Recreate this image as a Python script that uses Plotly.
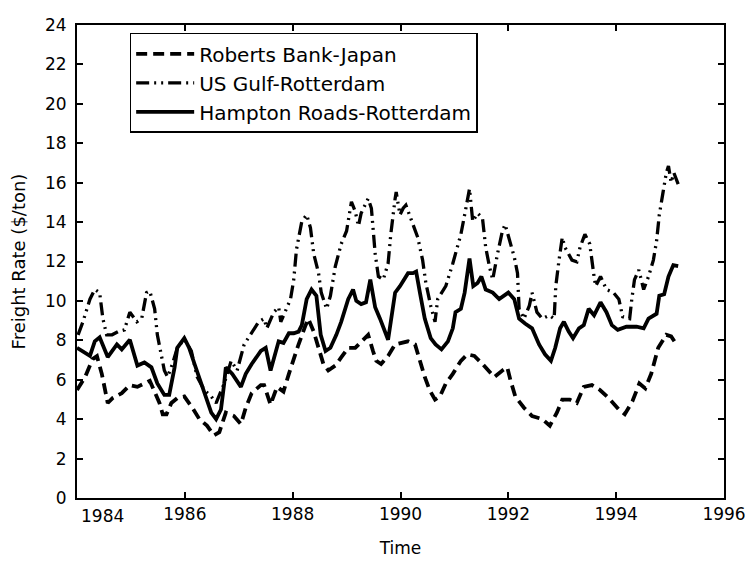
import plotly.graph_objects as go

# ---------------- data ----------------
hr_time = [1984.00, 1984.09, 1984.24, 1984.33, 1984.42, 1984.57, 1984.74, 1984.83, 1984.98, 1985.12,
           1985.25, 1985.38, 1985.49, 1985.62, 1985.71, 1985.81, 1985.86, 1985.99, 1986.08, 1986.18,
           1986.30, 1986.40, 1986.49, 1986.58, 1986.67, 1986.73, 1986.76, 1986.88, 1987.04, 1987.13,
           1987.24, 1987.41, 1987.50, 1987.59, 1987.65, 1987.74, 1987.83, 1987.93, 1988.02, 1988.11,
           1988.17, 1988.26, 1988.35, 1988.44, 1988.52, 1988.61, 1988.70, 1988.81, 1988.90, 1989.03,
           1989.12, 1989.18, 1989.27, 1989.36, 1989.44, 1989.53, 1989.62, 1989.71, 1989.77, 1989.82,
           1989.90, 1989.99, 1990.05, 1990.14, 1990.23, 1990.29, 1990.36, 1990.45, 1990.56, 1990.65,
           1990.76, 1990.88, 1990.97, 1991.02, 1991.12, 1991.19, 1991.28, 1991.35, 1991.43, 1991.50,
           1991.58, 1991.71, 1991.83, 1991.93, 1992.00, 1992.11, 1992.20, 1992.31, 1992.44, 1992.57,
           1992.68, 1992.79, 1992.87, 1992.96, 1993.03, 1993.12, 1993.20, 1993.31, 1993.40, 1993.49,
           1993.59, 1993.71, 1993.82, 1993.92, 1994.03, 1994.19, 1994.38, 1994.51, 1994.60, 1994.75,
           1994.80, 1994.89, 1994.97, 1995.06, 1995.15]
hr_rate = [7.62, 7.46, 7.21, 7.95, 8.15, 7.15, 7.79, 7.54, 8.03, 6.72,
           6.88, 6.63, 5.81, 5.23, 5.23, 6.63, 7.62, 8.11, 7.62, 6.80,
           5.81, 4.99, 4.33, 4.00, 4.49, 5.81, 6.63, 6.30, 5.64, 6.30,
           6.80, 7.46, 7.62, 6.47, 7.13, 7.95, 7.87, 8.36, 8.36, 8.44,
           8.77, 10.09, 10.58, 10.26, 8.28, 7.46, 7.62, 8.28, 8.94, 10.09,
           10.58, 10.00, 9.84, 9.93, 11.08, 9.68, 9.10, 8.44, 8.03, 8.94,
           10.42, 10.75, 11.00, 11.41, 11.41, 11.49, 10.42, 9.10, 8.11, 7.79,
           7.54, 7.95, 8.61, 9.43, 9.60, 10.42, 12.15, 10.75, 10.91, 11.24,
           10.58, 10.42, 10.09, 10.26, 10.42, 10.09, 9.10, 8.85, 8.61, 7.79,
           7.29, 6.96, 7.62, 8.61, 8.94, 8.44, 8.11, 8.61, 8.77, 9.60,
           9.27, 9.93, 9.43, 8.77, 8.53, 8.69, 8.69, 8.61, 9.10, 9.35,
           10.26, 10.34, 11.24, 11.82, 11.77]

rb_time = [1984.00, 1984.15, 1984.29, 1984.37, 1984.46, 1984.57, 1984.66, 1984.83, 1984.98, 1985.12,
           1985.35, 1985.44, 1985.53, 1985.59, 1985.66, 1985.75, 1985.86, 1985.99, 1986.14, 1986.27,
           1986.41, 1986.54, 1986.64, 1986.76, 1986.91, 1987.04, 1987.13, 1987.24, 1987.41, 1987.47,
           1987.59, 1987.71, 1987.83, 1987.93, 1988.02, 1988.11, 1988.24, 1988.29, 1988.39, 1988.48,
           1988.57, 1988.66, 1988.79, 1988.90, 1989.03, 1989.16, 1989.27, 1989.40, 1989.49, 1989.55,
           1989.64, 1989.77, 1989.90, 1990.01, 1990.14, 1990.27, 1990.36, 1990.45, 1990.54, 1990.64,
           1990.73, 1990.84, 1990.97, 1991.12, 1991.24, 1991.37, 1991.52, 1991.65, 1991.74, 1991.89,
           1991.98, 1992.04, 1992.13, 1992.29, 1992.44, 1992.63, 1992.77, 1992.90, 1993.00, 1993.14,
           1993.27, 1993.40, 1993.55, 1993.70, 1993.86, 1994.05, 1994.16, 1994.30, 1994.43, 1994.54,
           1994.65, 1994.78, 1994.93, 1995.02, 1995.12]
rb_rate = [5.48, 6.14, 7.05, 7.20, 6.30, 4.82, 5.07, 5.32, 5.73, 5.64,
           5.95, 5.32, 4.82, 4.25, 4.25, 4.82, 5.07, 5.15, 4.58, 4.00,
           3.67, 3.18, 3.34, 4.33, 4.16, 3.75, 4.58, 5.32, 5.73, 5.73,
           4.74, 5.64, 5.40, 6.30, 7.13, 7.80, 8.77, 9.10, 8.44, 7.62,
           6.80, 6.47, 6.72, 7.13, 7.62, 7.62, 7.95, 8.28, 7.46, 6.96,
           6.80, 7.21, 7.79, 7.87, 7.95, 7.79, 6.96, 6.14, 5.48, 4.99,
           5.15, 5.81, 6.30, 6.96, 7.29, 7.21, 6.80, 6.39, 6.14, 6.47,
           6.63, 5.97, 5.15, 4.58, 4.16, 4.00, 3.67, 4.33, 4.99, 4.99,
           4.82, 5.64, 5.73, 5.48, 5.07, 4.49, 4.25, 4.90, 5.81, 5.56,
           6.30, 7.62, 8.28, 8.20, 7.79]

ug_time = [1984.02, 1984.11, 1984.24, 1984.33, 1984.42, 1984.48, 1984.55, 1984.65, 1984.76, 1984.88,
           1984.98, 1985.11, 1985.20, 1985.29, 1985.35, 1985.44, 1985.49, 1985.57, 1985.62, 1985.68,
           1985.77, 1985.86, 1985.99, 1986.12, 1986.23, 1986.36, 1986.49, 1986.58, 1986.73, 1986.86,
           1986.97, 1987.10, 1987.23, 1987.37, 1987.47, 1987.52, 1987.65, 1987.74, 1987.78, 1987.87,
           1987.96, 1988.02, 1988.07, 1988.17, 1988.26, 1988.33, 1988.39, 1988.48, 1988.53, 1988.63,
           1988.70, 1988.79, 1988.90, 1989.00, 1989.09, 1989.16, 1989.22, 1989.27, 1989.40, 1989.46,
           1989.53, 1989.59, 1989.68, 1989.77, 1989.82, 1989.90, 1989.92, 1989.99, 1990.05, 1990.10,
           1990.19, 1990.32, 1990.41, 1990.47, 1990.56, 1990.64, 1990.69, 1990.84, 1990.97, 1991.12,
           1991.19, 1991.28, 1991.34, 1991.43, 1991.52, 1991.58, 1991.65, 1991.71, 1991.80, 1991.89,
           1991.94, 1992.02, 1992.11, 1992.17, 1992.20, 1992.29, 1992.39, 1992.44, 1992.53, 1992.63,
           1992.76, 1992.85, 1992.88, 1992.94, 1993.00, 1993.05, 1993.18, 1993.27, 1993.33, 1993.42,
           1993.51, 1993.59, 1993.62, 1993.71, 1993.82, 1993.95, 1994.05, 1994.12, 1994.25, 1994.29,
           1994.34, 1994.42, 1994.47, 1994.51, 1994.60, 1994.69, 1994.75, 1994.80, 1994.87, 1994.93,
           1994.97, 1995.02, 1995.07, 1995.15]
ug_rate = [8.28, 8.94, 10.09, 10.58, 10.42, 9.10, 8.28, 8.28, 8.44, 8.53,
           9.43, 8.94, 9.10, 10.42, 10.50, 9.60, 8.28, 7.13, 6.47, 6.14,
           6.80, 7.62, 8.05, 7.46, 6.14, 5.48, 5.15, 4.82, 5.81, 6.96,
           6.47, 7.79, 8.36, 8.94, 9.10, 8.61, 9.43, 9.68, 8.94, 9.51,
           10.09, 11.08, 12.60, 14.04, 14.37, 13.71, 12.40, 11.41, 10.42, 9.60,
           10.26, 11.74, 12.89, 13.55, 15.03, 14.54, 13.80, 14.45, 15.19, 14.70,
           12.40, 11.24, 11.08, 11.90, 13.38, 15.19, 15.52, 14.37, 14.70, 14.86,
           14.21, 13.22, 12.07, 10.91, 9.76, 8.94, 10.09, 10.75, 11.90, 13.38,
           14.37, 15.69, 14.04, 14.45, 14.21, 12.72, 11.74, 11.08, 12.40, 13.55,
           13.88, 13.05, 12.23, 11.41, 9.60, 9.10, 9.76, 10.42, 9.43, 9.10,
           9.27, 9.10, 10.75, 12.07, 13.22, 12.72, 12.07, 11.98, 12.72, 13.38,
           12.89, 11.24, 10.75, 11.24, 10.58, 10.42, 10.09, 9.20, 9.10, 10.09,
           11.08, 11.57, 11.08, 10.58, 11.24, 12.07, 13.05, 14.37, 15.52, 16.50,
           16.84, 16.01, 16.50, 15.93]

series_names = ["Roberts Bank-Japan", "US Gulf-Rotterdam", "Hampton Roads-Rotterdam"]
x_ticks = [1984, 1986, 1988, 1990, 1992, 1994, 1996]
x_tick_labels = ["1984", "1986", "1988", "1990", "1992", "1994", "1996"]
y_ticks = [0, 2, 4, 6, 8, 10, 12, 14, 16, 18, 20, 22, 24]
x_title = "Time"
y_title = "Freight Rate ($/ton)"

FONT = "DejaVu Sans"
TICK_SIZE = 17

fig = go.Figure()
fig.add_trace(go.Scatter(x=rb_time, y=rb_rate, mode="lines", name=series_names[0],
                         line=dict(color="black", width=3.8, dash="11px,6px")))
fig.add_trace(go.Scatter(x=ug_time, y=ug_rate, mode="lines", name=series_names[1],
                         line=dict(color="black", width=3.3, dash="13px,5px,2px,5px,2px,5px")))
fig.add_trace(go.Scatter(x=hr_time, y=hr_rate, mode="lines", name=series_names[2],
                         line=dict(color="black", width=3.8)))

# first x tick label sits just inside the left edge in the reference
fig.add_annotation(x=x_ticks[0], y=0, xref="x", yref="y", text=x_tick_labels[0],
                   showarrow=False, xanchor="left", yanchor="top", xshift=2, yshift=-6,
                   font=dict(family=FONT, size=TICK_SIZE, color="black"))

# page body has an 8px default margin: figure is shrunk/shifted accordingly
fig.update_layout(
    width=745, height=554,
    margin=dict(l=69, r=25, t=7, b=61),
    paper_bgcolor="white", plot_bgcolor="white",
    font=dict(family=FONT, size=TICK_SIZE, color="black"),
    showlegend=True,
    legend=dict(x=0.0814, y=0.9835, xanchor="left", yanchor="top",
                bordercolor="black", borderwidth=1.5, bgcolor="white",
                font=dict(family=FONT, size=20, color="black"),
                itemwidth=58, tracegroupgap=0),
    xaxis=dict(range=[1984, 1996], tickvals=x_ticks,
               ticktext=[""] + x_tick_labels[1:],
               ticks="inside", ticklen=6, tickwidth=1.5, tickcolor="black",
               showline=True, linecolor="black", linewidth=2, mirror="ticks",
               showgrid=False, zeroline=False, ticklabeloverflow="allow",
               title=dict(text=x_title, font=dict(family=FONT, size=17), standoff=19),
               tickfont=dict(family=FONT, size=TICK_SIZE)),
    yaxis=dict(range=[0, 24], tickvals=y_ticks,
               ticks="inside", ticklen=6, tickwidth=1.5, tickcolor="black",
               ticklabelstandoff=5, ticklabeloverflow="allow",
               showline=True, linecolor="black", linewidth=2, mirror="ticks",
               showgrid=False, zeroline=False,
               title=dict(text=y_title, font=dict(family=FONT, size=18), standoff=16),
               tickfont=dict(family=FONT, size=TICK_SIZE)),
)

fig.write_html("out.html")
